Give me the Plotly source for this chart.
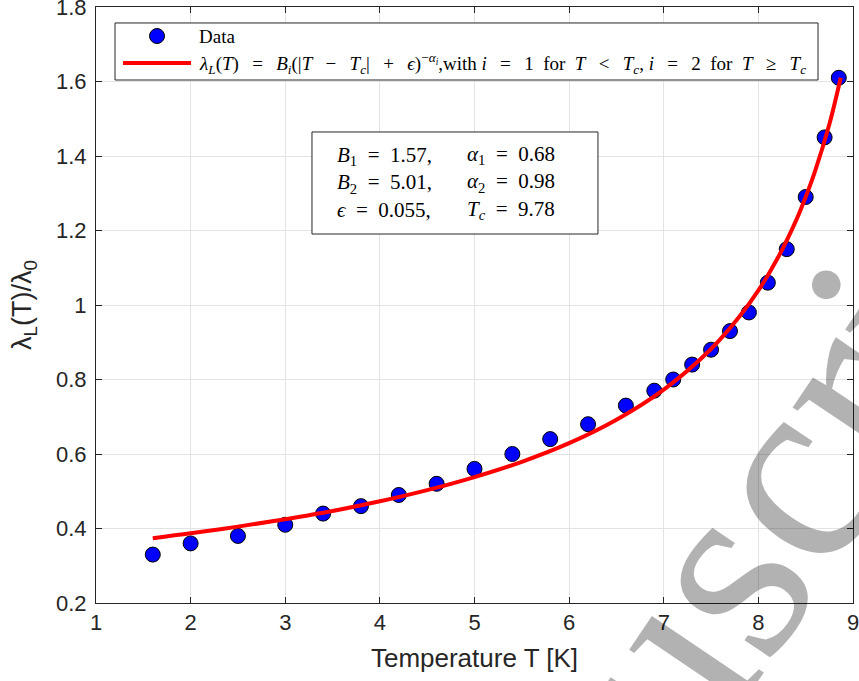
import plotly.graph_objects as go

# measured penetration depth (normalised)
temp_data = [1.6, 2.0, 2.5, 3.0, 3.4, 3.8, 4.2, 4.6, 5.0, 5.4, 5.8, 6.2, 6.6,
             6.9, 7.1, 7.3, 7.5, 7.7, 7.9, 8.1, 8.3, 8.5, 8.7, 8.85]
lam_data = [0.33, 0.36, 0.38, 0.41, 0.44, 0.46, 0.49, 0.52, 0.56, 0.60, 0.64, 0.68, 0.73,
            0.77, 0.80, 0.84, 0.88, 0.93, 0.98, 1.06, 1.15, 1.29, 1.45, 1.61]

# fitted curve
temp_fit = [1.6, 2.0, 2.5, 3.0, 3.5, 4.0, 4.5, 5.0, 5.5, 6.0, 6.5, 7.0, 7.5,
            7.8, 8.0, 8.2, 8.4, 8.5, 8.6, 8.75, 8.87]
lam_fit = [0.374, 0.387, 0.405, 0.425, 0.447, 0.473, 0.503, 0.538, 0.579, 0.629, 0.692, 0.773, 0.882,
           0.969, 1.039, 1.124, 1.228, 1.29, 1.360, 1.485, 1.61]

x_ticks = [1, 2, 3, 4, 5, 6, 7, 8, 9]
y_ticks = [0.2, 0.4, 0.6, 0.8, 1.0, 1.2, 1.4, 1.6, 1.8]
y_ticktext = ["0.2", "0.4", "0.6", "0.8", "1", "1.2", "1.4", "1.6", "1.8"]

AX = "#262626"
SERIF = "Liberation Serif"
SANS = "Liberation Sans"
E = "\u2002"         # en space
S = "\u2002\u2009"   # math-like spacing round operators

MARKER = dict(color="#0000ff", size=15, line=dict(color="black", width=1))
FIT_LINE = dict(color="#ff0000", width=4)

fit_label = (f"<i>λ</i><sub><i>L</i></sub>(<i>T</i>){S}={S}<i>B</i><sub><i>i</i></sub>(|<i>T</i>{S}−{S}<i>T</i><sub><i>c</i></sub>|{S}+{S}<i>ϵ</i>)"
             f"<sup>−<i>α</i><sub><i>i</i></sub></sup>,with <i>i</i>{S}={S}1{E}for{E}<i>T</i>{S}&lt;{S}<i>T</i><sub><i>c</i></sub>, "
             f"<i>i</i>{S}={S}2{E}for{E}<i>T</i>{S}≥{S}<i>T</i><sub><i>c</i></sub>")

fig = go.Figure()
fig.add_trace(go.Scatter(x=temp_data, y=lam_data, mode="markers", name="Data", marker=MARKER))
fig.add_trace(go.Scatter(x=temp_fit, y=lam_fit, mode="lines", name="fit",
                         line=dict(**FIT_LINE, shape="spline")))

axis_common = dict(
    showline=True, linecolor=AX, linewidth=1, mirror="ticks",
    ticks="inside", ticklen=6, tickcolor=AX,
    showgrid=True, gridcolor="#e3e3e3", gridwidth=1, zeroline=False,
    tickfont=dict(family=SANS, size=22, color=AX), automargin=False,
    ticklabeloverflow="allow",
)

fig.update_xaxes(range=[1, 9], tickvals=x_ticks,
                 title=dict(text="Temperature T [K]", font=dict(family=SANS, size=26, color=AX), standoff=14),
                 **axis_common)
fig.update_yaxes(range=[0.2, 1.8], tickvals=y_ticks, ticktext=y_ticktext, ticklabelstandoff=4,
                 title=dict(text="λ<sub>L</sub>(T)/λ<sub>0</sub>", font=dict(family=SANS, size=27, color=AX), standoff=16),
                 **axis_common)

# legend box (MATLAB style, tight rows)
fig.add_shape(type="rect", xref="paper", yref="paper", x0=0.0251, x1=0.9538, y0=0.8775, y1=0.9732,
              line=dict(color=AX, width=1), fillcolor="white", layer="above")
fig.add_shape(type="circle", xref="paper", yref="paper", x0=0.0806 - 0.0099, x1=0.0806 + 0.0099,
              y0=0.9513 - 0.0126, y1=0.9513 + 0.0126, fillcolor=MARKER["color"],
              line=dict(color="black", width=1), layer="above")
fig.add_shape(type="line", xref="paper", yref="paper", x0=0.0357, x1=0.1255, y0=0.9060, y1=0.9060,
              line=FIT_LINE, layer="above")
fig.add_annotation(xref="paper", yref="paper", x=0.1334, y=0.9513, xanchor="left", yanchor="middle",
                   text="Data", showarrow=False, font=dict(family=SERIF, size=19, color="black"))
fig.add_annotation(xref="paper", yref="paper", x=0.1334, y=0.9060, xanchor="left", yanchor="middle",
                   text=fit_label, showarrow=False, font=dict(family=SERIF, size=19, color="black"))

# parameter box
fig.add_shape(type="rect", xref="paper", yref="paper", x0=0.2853, x1=0.6631, y0=0.6191, y1=0.7903,
              line=dict(color=AX, width=1), fillcolor="white", layer="above")
left_col = (f"<i>B</i><sub>1</sub>{E}={E}1.57,<br><i>B</i><sub>2</sub>{E}={E}5.01,<br><i>ϵ</i>{E}={E}0.055,")
right_col = (f"<i>α</i><sub>1</sub>{E}={E}0.68<br><i>α</i><sub>2</sub>{E}={E}0.98<br><i>T</i><sub><i>c</i></sub>{E}={E}9.78")
fig.add_annotation(xref="paper", yref="paper", x=0.3157, y=0.7047, xanchor="left", yanchor="middle",
                   align="left", text=left_col, showarrow=False, font=dict(family=SERIF, size=21, color="black"))
fig.add_annotation(xref="paper", yref="paper", x=0.4875, y=0.7047, xanchor="left", yanchor="middle",
                   align="left", text=right_col, showarrow=False, font=dict(family=SERIF, size=21, color="black"))

# watermark
fig.add_annotation(xref="paper", yref="paper", x=0.775, y=-0.045, xanchor="center", yanchor="middle",
                   text="Manuscript", textangle=-56, showarrow=False,
                   font=dict(family=SERIF, size=271, color="rgba(0,0,0,0.3)"))

fig.update_layout(
    width=859, height=681,
    margin=dict(l=96, r=6, t=7, b=78),
    paper_bgcolor="white", plot_bgcolor="white",
    showlegend=False,
)

fig.write_html("out.html", config={"displayModeBar": False},
               post_script="document.body.style.margin = '0';")
